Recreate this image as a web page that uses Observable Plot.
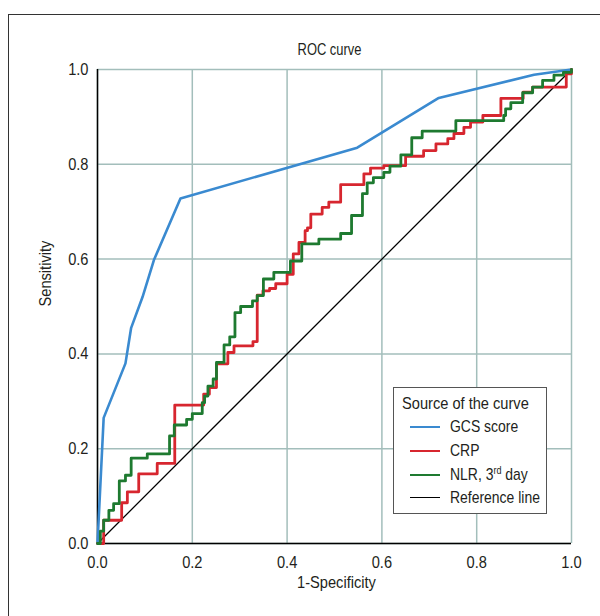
<!DOCTYPE html>
<html>
<head>
<meta charset="utf-8">
<script src="https://cdn.jsdelivr.net/npm/d3@7"></script>
<script src="https://cdn.jsdelivr.net/npm/@observablehq/plot@0.6"></script>
<style>
  body { margin: 0; background: #fff; }
  #wrap { position: relative; width: 600px; height: 616px; overflow: hidden;
          font-family: "Liberation Sans", Arial, sans-serif; color: #231f20; }
  #frame { position: absolute; left: 8px; top: 14px; width: 700px; height: 700px; border: 1px solid #333; }
  #chart { position: absolute; left: 0; top: 0; }
  #legend { position: absolute; left: 393px; top: 387px; width: 152px; height: 125px;
            border: 1px solid #555; background: #fff; font-size: 17px; }
  #legend .row { position: absolute; height: 24px; line-height: 24px; white-space: nowrap; }
  #legend .sw { position: absolute; left: 16px; width: 30px; height: 0; }
  #legend .lab { position: absolute; left: 56px; display: inline-block; transform: scaleX(0.82); transform-origin: left center; }
  #legend .ttl { display: inline-block; transform: scaleX(0.86); transform-origin: left center; }
  #legend sup { font-size: 11px; vertical-align: 6px; line-height: 0; }
</style>
</head>
<body>
<div id="wrap">
  <div id="frame"></div>
  <div id="chart"></div>
  <div id="legend"></div>
</div>
<script>
// ---- data ----
const ticks = [0, 0.2, 0.4, 0.6, 0.8, 1.0];
const tickLabels = ["0.0", "0.2", "0.4", "0.6", "0.8", "1.0"];

const seriesNames = ["GCS score", "CRP", "NLR, 3<sup>rd</sup> day", "Reference line"];
const seriesColors = ["#3a8ad0", "#d7262f", "#1e7a30", "#000000"];

const gcsFpr = [0, 0.013, 0.059, 0.071, 0.095, 0.119, 0.175, 0.548, 0.72, 0.921, 1];
const gcsTpr = [0, 0.265, 0.38, 0.455, 0.52, 0.598, 0.728, 0.835, 0.94, 0.989, 1];

const crpFpr = [0, 0.013, 0.051, 0.063, 0.087, 0.126, 0.163, 0.224, 0.236, 0.251, 0.275, 0.288, 0.328, 0.337,
  0.349, 0.363, 0.376, 0.400, 0.413, 0.425, 0.438, 0.443, 0.450, 0.474, 0.488, 0.513, 0.562, 0.576,
  0.604, 0.650, 0.688, 0.714, 0.739, 0.752, 0.773, 0.787, 0.813, 0.851, 0.898, 0.918, 0.989, 1];
const crpTpr = [0, 0.049, 0.086, 0.109, 0.147, 0.169, 0.292, 0.315, 0.329, 0.379, 0.403, 0.417, 0.426, 0.524,
  0.533, 0.538, 0.548, 0.568, 0.611, 0.635, 0.660, 0.666, 0.695, 0.709, 0.720, 0.757, 0.780, 0.792,
  0.797, 0.817, 0.829, 0.843, 0.854, 0.865, 0.878, 0.889, 0.903, 0.939, 0.952, 0.963, 0.991, 1];

const nlrFpr = [0, 0.006, 0.013, 0.024, 0.034, 0.046, 0.059, 0.071, 0.105, 0.152,
  0.162, 0.188, 0.200, 0.221, 0.226, 0.233, 0.244, 0.251, 0.267, 0.279,
  0.290, 0.302, 0.327, 0.337, 0.350, 0.372, 0.407, 0.431, 0.467, 0.513,
  0.536, 0.559, 0.569, 0.582, 0.604, 0.617, 0.640, 0.663, 0.685, 0.756,
  0.857, 0.861, 0.872, 0.897, 0.918, 0.939, 0.963, 0.983, 1];
const nlrTpr = [0, 0.026, 0.049, 0.070, 0.084, 0.132, 0.144, 0.180, 0.189, 0.227,
  0.250, 0.262, 0.274, 0.297, 0.311, 0.332, 0.347, 0.382, 0.419, 0.436,
  0.487, 0.500, 0.512, 0.523, 0.558, 0.572, 0.596, 0.632, 0.642, 0.654,
  0.692, 0.738, 0.761, 0.772, 0.783, 0.796, 0.820, 0.856, 0.870, 0.892,
  0.903, 0.917, 0.930, 0.951, 0.963, 0.977, 0.988, 0.994, 1];

const refFpr = [0, 1];
const refTpr = [0, 1];

// ---- build ----
const toRows = (xs, ys) => xs.map((x, i) => ({fpr: x, tpr: ys[i]}));
const gcs = toRows(gcsFpr, gcsTpr);
const crp = toRows(crpFpr, crpTpr);
const nlr = toRows(nlrFpr, nlrTpr);
const ref = toRows(refFpr, refTpr);

const font = '"Liberation Sans", Arial, sans-serif';
const gridColor = "#a3bebb";

const chart = Plot.plot({
  width: 600,
  height: 616,
  marginLeft: 97,
  marginRight: 29,
  marginTop: 69,
  marginBottom: 73,
  x: {domain: [0, 1]},
  y: {domain: [0, 1]},
  style: {fontFamily: font, fontSize: "17px", color: "#231f20", background: "none", overflow: "visible"},
  marks: [
    Plot.gridX(ticks, {stroke: gridColor, strokeOpacity: 1, strokeWidth: 1.5}),
    Plot.gridY(ticks, {stroke: gridColor, strokeOpacity: 1, strokeWidth: 1.5}),
    Plot.axisX(ticks, {tickSize: 0, tickPadding: 12, tickFormat: d => tickLabels[ticks.indexOf(d)], label: null, fontSize: 17}),
    Plot.axisY(ticks, {tickSize: 0, tickPadding: 9, tickFormat: d => tickLabels[ticks.indexOf(d)], label: null, fontSize: 17}),
    Plot.ruleX([0], {stroke: "#000", strokeWidth: 1.5}),
    Plot.ruleY([0], {stroke: "#000", strokeWidth: 1.5}),
    Plot.line(ref, {x: "fpr", y: "tpr", stroke: seriesColors[3], strokeWidth: 1.3}),
    Plot.line(gcs, {x: "fpr", y: "tpr", stroke: seriesColors[0], strokeWidth: 2.6}),
    Plot.line(crp, {x: "fpr", y: "tpr", curve: "step-after", stroke: seriesColors[1], strokeWidth: 2.8}),
    Plot.line(nlr, {x: "fpr", y: "tpr", curve: "step-after", stroke: seriesColors[2], strokeWidth: 2.8}),
    Plot.text(["ROC curve"], {text: d => d, frameAnchor: "top", dx: -5, dy: -15, lineAnchor: "bottom", fontSize: 17, className: "title"}),
    Plot.text(["1-Specificity"], {text: d => d, frameAnchor: "bottom", dx: 2, dy: 44, lineAnchor: "bottom", fontSize: 17}),
    Plot.text(["Sensitivity"], {text: d => d, frameAnchor: "left", dx: -52, rotate: -90, fontSize: 17})
  ]
});
document.getElementById("chart").appendChild(chart);

// condense the text horizontally to mimic the narrow face of the original
chart.querySelectorAll("text").forEach(t => {
  const w = t.getComputedTextLength();
  if (w > 0) {
    const f = t.closest(".title") ? 0.76 : 0.86;
    t.setAttribute("textLength", (w * f).toFixed(2));
    t.setAttribute("lengthAdjust", "spacingAndGlyphs");
  }
});

// ---- legend ----
const legend = document.getElementById("legend");
const title = document.createElement("div");
title.className = "row";
title.style.left = "8px";
title.style.top = "4px";
title.innerHTML = '<span class="ttl">Source of the curve</span>';
legend.appendChild(title);
const rowTops = [27, 51, 75, 98];
seriesNames.forEach((name, i) => {
  const row = document.createElement("div");
  row.className = "row";
  row.style.left = "0px";
  row.style.top = rowTops[i] + "px";
  row.style.width = "150px";
  const sw = document.createElement("div");
  sw.className = "sw";
  const th = i === 3 ? 1.3 : 2.6;
  sw.style.top = (12 - th / 2) + "px";
  sw.style.borderTop = th + "px solid " + seriesColors[i];
  const lab = document.createElement("span");
  lab.className = "lab";
  lab.innerHTML = name;
  row.appendChild(sw);
  row.appendChild(lab);
  legend.appendChild(row);
});
</script>
</body>
</html>
